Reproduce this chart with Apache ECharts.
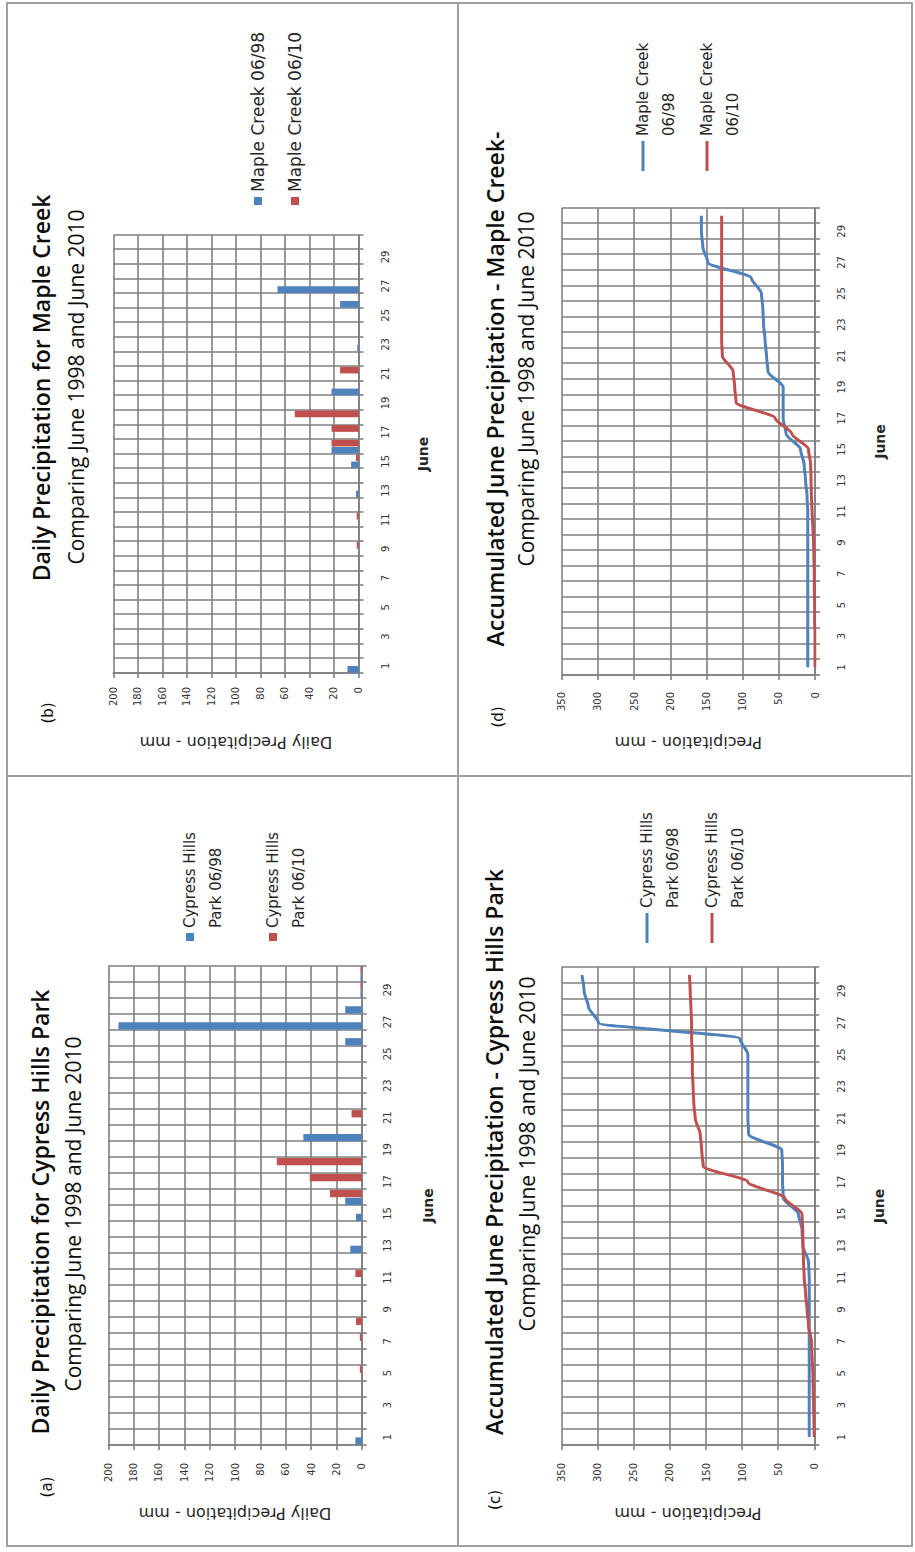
<!DOCTYPE html>
<html>
<head>
<meta charset="utf-8">
<script src="https://cdn.jsdelivr.net/npm/echarts@6/dist/echarts.min.js"></script>
<style>
html,body{margin:0;padding:0;background:#fff;width:915px;height:1552px;overflow:hidden;}
#root{position:absolute;left:0;top:0;width:1552px;height:915px;transform-origin:0 0;transform:translate(0,1552px) rotate(-90deg);background:#fff;}
.panel{position:absolute;}
.line{position:absolute;background:#a0a0a0;pointer-events:none;}
.frame{position:absolute;border:2px solid #a0a0a0;box-sizing:border-box;pointer-events:none;}
</style>
</head>
<body>
<div id="root">
  <div id="pa" class="panel" style="left:5px;top:7px;width:772px;height:451px"></div>
  <div id="pb" class="panel" style="left:777px;top:7px;width:772px;height:451px"></div>
  <div id="pc" class="panel" style="left:5px;top:458px;width:772px;height:454px"></div>
  <div id="pd" class="panel" style="left:777px;top:458px;width:772px;height:454px"></div>
  <div class="frame" style="left:5px;top:6px;width:1545px;height:907px"></div>
  <div class="line" style="left:5px;top:457px;width:1545px;height:2px"></div>
  <div class="line" style="left:775px;top:6px;width:2px;height:907px"></div>
</div>
<script>
// ---------------- data ----------------
const days = ['1','2','3','4','5','6','7','8','9','10','11','12','13','14','15',
              '16','17','18','19','20','21','22','23','24','25','26','27','28','29','30'];

// daily precipitation (mm)
const cypressDaily1998 = [5,0,0,0,0,0,0,0,0,0,0,0,9,0,4.5,13,0,0,0,46,0,0,0,0,0,13,192,13,1,1];
const cypressDaily2010 = [0,0,0,0,1.5,0,1.5,4.5,0,0,5,0,0,0,0,25,41,67,0,0,8,0,0,0,0,0,0,0,1,1];
const mapleDaily1998   = [9,0,0,0,0,0,0,0,0,0,0,0,2,0,6,22,0,0,0,22,0,0,1,0,0,15,66,0,0,0];
const mapleDaily2010   = [0,0,0,0,0,0,0,0,1.5,0,1.5,0,0,0,2,22,22,52,0,0,15,0,0,0,0,0,0,0,0,0];

// accumulated precipitation (mm)
const cypressAccum1998 = [7,7,7,7,7,7,7,7,7,7,7,8,16,17,22,43,44,44,45,91,92,92,92,92,92,103,299,313,319,322];
const cypressAccum2010 = [0,0.5,1,1.5,2,3,4,8,10,12,14,15,15.5,16,17,41,92,154,156,158,165,167,168,169,169,170,170,171,172,173];
const mapleAccum1998   = [10,10,10,10,10,10,10,10,10,10,10,11,13,15,20,40,44,44,44,65,67,69,71,72,74,88,148,155,157,157];
const mapleAccum2010   = [0,0,0,0.5,0.5,1,1,1.5,2,3,4,5,5.5,6,9,32,55,109,111,113,128,129,129,129,129,129,129,129,129,129];

// labels
const seriesNames = {
  cy98: 'Cypress Hills Park 06/98',
  cy10: 'Cypress Hills Park 06/10',
  mc98: 'Maple Creek 06/98',
  mc10: 'Maple Creek 06/10'
};
const titles = {
  a: 'Daily Precipitation for Cypress Hills Park',
  b: 'Daily Precipitation for Maple Creek',
  c: 'Accumulated June Precipitation - Cypress Hills Park',
  d: 'Accumulated June Precipitation - Maple Creek-'
};
const subtitle = 'Comparing June 1998 and June 2010';
const xName = 'June';
const yNameDaily = 'Daily Precipitation - mm';
const yNameAccum = 'Precipitation - mm';

// ---------------- styling ----------------
const BLUE = '#4F81BD';
const RED = '#C0504D';
const GRIDC = '#7f7f7f';
const FONT_T = '"Open Sans", "Liberation Sans", sans-serif';
const FONT_S = '"DejaVu Sans", "Liberation Sans", sans-serif';

function build(cfg) {
  const el = document.getElementById(cfg.el);
  const chart = echarts.init(el, null, {renderer: 'svg', width: cfg.w, height: cfg.h});
  const isBar = cfg.type === 'bar';
  const series = cfg.series.map(s => isBar ? {
    type: 'bar', name: s.name, data: s.data,
    barGap: '8%', barCategoryGap: '5%',
    itemStyle: {color: s.color}, emphasis: {disabled: true}
  } : {
    type: 'line', name: s.name, data: s.data, symbol: 'none', showSymbol: false,
    smooth: 0.25, smoothMonotone: 'x',
    lineStyle: {color: s.color, width: 3}, itemStyle: {color: s.color},
    emphasis: {disabled: true}
  });
  const lg = cfg.legend;
  const legend = {
    orient: 'vertical', left: lg.left, top: lg.top, itemGap: lg.gap, padding: 0,
    itemWidth: isBar ? 8 : 30, itemHeight: isBar ? 8 : 3,
    icon: 'rect',
    data: cfg.series.map(s => s.name),
    formatter: lg.formatter,
    textStyle: lg.multi ? {
      fontFamily: FONT_S, fontSize: 15, color: '#262626', lineHeight: 26
    } : {
      fontFamily: FONT_S, fontSize: 17, color: '#262626', lineHeight: 20
    }
  };
  chart.setOption({
    animation: false,
    title: [
      {text: cfg.title, left: cfg.tx, top: cfg.ty, textAlign: 'center', textVerticalAlign: 'middle', padding: 0,
       textStyle: {fontFamily: FONT_T, fontSize: 23, fontWeight: 600, color: '#0d0d0d'}},
      {text: subtitle, left: cfg.sx, top: cfg.sy, textAlign: 'center', textVerticalAlign: 'middle', padding: 0,
       textStyle: {fontFamily: FONT_T, fontSize: 21, fontWeight: 'normal', color: '#0d0d0d'}},
      {text: cfg.letter, left: cfg.lx, top: cfg.ly, textAlign: 'center', textVerticalAlign: 'middle', padding: 0,
       textStyle: {fontFamily: FONT_S, fontSize: 15, fontWeight: 'normal', color: '#0d0d0d'}}
    ],
    legend: legend,
    grid: {left: cfg.grid[0], top: cfg.grid[1], width: cfg.grid[2], height: cfg.grid[3],
           containLabel: false, outerBoundsMode: 'none'},
    xAxis: {
      type: 'category', data: days, boundaryGap: true,
      name: xName, nameLocation: 'middle', nameGap: cfg.xNameGap,
      nameTextStyle: {fontFamily: FONT_S, fontSize: 14, fontWeight: 'bold', color: '#262626'},
      axisLine: {show: true, lineStyle: {color: GRIDC, width: 1.6}},
      axisTick: {show: true, interval: 0, length: 5, inside: false, lineStyle: {color: GRIDC, width: 1.6}},
      axisLabel: {interval: 1, margin: cfg.xLabelMargin, fontFamily: FONT_S, fontSize: 10, color: '#333333'},
      splitLine: {show: true, interval: 0, lineStyle: {color: GRIDC, width: 1.6}}
    },
    yAxis: {
      type: 'value', min: 0, max: cfg.yMax, interval: cfg.yInt,
      name: cfg.yName, nameLocation: 'middle', nameGap: cfg.yNameGap,
      nameTextStyle: {fontFamily: FONT_S, fontSize: 16, color: '#262626'},
      axisLine: {show: true, lineStyle: {color: GRIDC, width: 1.6}},
      axisTick: {show: true, length: 5, inside: false, lineStyle: {color: GRIDC, width: 1.6}},
      axisLabel: {margin: cfg.yLabelMargin, fontFamily: FONT_S, fontSize: 10, color: '#333333'},
      splitLine: {show: true, lineStyle: {color: GRIDC, width: 1.6}}
    },
    series: series
  });
}

// legend names on two lines; a leading empty line keeps the marker beside the first text line
const splitCypress = n => '\n' + n.replace(' Park ', '\nPark ');
const splitMaple = n => '\n' + n.replace('Creek ', 'Creek\n');

build({
  el: 'pa', w: 772, h: 451, type: 'bar',
  grid: [102, 101.3, 479, 253.4], yMax: 200, yInt: 20, yName: yNameDaily,
  yNameGap: 60, xNameGap: 59, xLabelMargin: 21, yLabelMargin: 18,
  title: titles.a, tx: 335, ty: 33, sx: 333, sy: 66, letter: '(a)', lx: 60, ly: 40,
  legend: {left: 606, top: 144, gap: 5, multi: true, formatter: splitCypress},
  series: [{name: seriesNames.cy98, data: cypressDaily1998, color: BLUE},
           {name: seriesNames.cy10, data: cypressDaily2010, color: RED}]
});
build({
  el: 'pb', w: 772, h: 451, type: 'bar',
  grid: [102, 106.3, 438, 245.2], yMax: 200, yInt: 20, yName: yNameDaily,
  yNameGap: 61, xNameGap: 57, xLabelMargin: 22, yLabelMargin: 14,
  title: titles.b, tx: 387, ty: 34, sx: 388, sy: 69, letter: '(b)', lx: 62, ly: 41,
  legend: {left: 570, top: 241, gap: 17, multi: false, formatter: n => n},
  series: [{name: seriesNames.mc98, data: mapleDaily1998, color: BLUE},
           {name: seriesNames.mc10, data: mapleDaily2010, color: RED}]
});
build({
  el: 'pc', w: 772, h: 454, type: 'line',
  grid: [102, 103.7, 478, 252.6], yMax: 350, yInt: 50, yName: yNameAccum,
  yNameGap: 60, xNameGap: 58, xLabelMargin: 22, yLabelMargin: 18,
  title: titles.c, tx: 395, ty: 36, sx: 393, sy: 69, letter: '(c)', lx: 47, ly: 37,
  legend: {left: 604, top: 150, gap: -13, multi: true, formatter: splitCypress},
  series: [{name: seriesNames.cy98, data: cypressAccum1998, color: BLUE},
           {name: seriesNames.cy10, data: cypressAccum2010, color: RED}]
});
build({
  el: 'pd', w: 772, h: 454, type: 'line',
  grid: [100, 103.7, 467, 253.3], yMax: 350, yInt: 50, yName: yNameAccum,
  yNameGap: 59.5, xNameGap: 57.5, xLabelMargin: 21, yLabelMargin: 17,
  title: titles.d, tx: 386, ty: 37, sx: 386, sy: 68, letter: '(d)', lx: 58, ly: 40,
  legend: {left: 604, top: 146, gap: -14, multi: true, formatter: splitMaple},
  series: [{name: seriesNames.mc98, data: mapleAccum1998, color: BLUE},
           {name: seriesNames.mc10, data: mapleAccum2010, color: RED}]
});
</script>
</body>
</html>
